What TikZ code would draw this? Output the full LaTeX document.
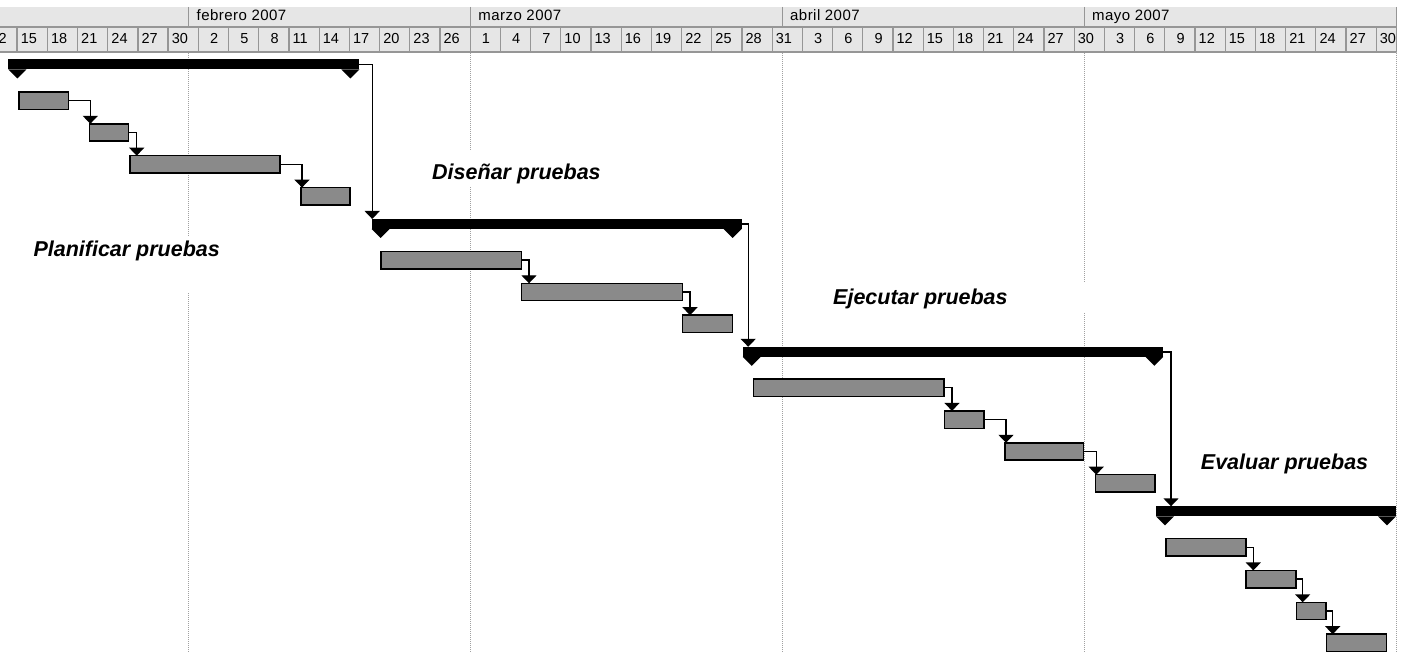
\documentclass[tikz,border=0pt]{standalone}
\usepackage{fontspec}
\setmainfont{Liberation Sans}
\newfontfamily\hdrfont[LetterSpace=3]{Liberation Sans}
\usetikzlibrary{arrows.meta}

\definecolor{hdrfill}{HTML}{E6E6E6}
\definecolor{hdrline}{HTML}{969696}
\definecolor{gridline}{HTML}{A0A0A0}
\definecolor{barfill}{HTML}{8A8A8A}

\tikzset{
  taskbar/.style={draw=black, line width=1.5pt, fill=barfill, inner sep=0pt,
    outer sep=0pt, anchor=north west, minimum height=17.4pt},
  sumbar/.style={fill=black, inner sep=0pt, outer sep=0pt, anchor=north west,
    minimum height=10pt},
  link/.style={line width=1.4pt, -{Triangle[width=15pt,length=8pt]}},
  phase/.style={font=\fontsize{21.5}{24}\selectfont\bfseries\itshape,
    inner sep=0pt, anchor=base west},
  monthlbl/.style={font=\hdrfont\fontsize{15}{17}\selectfont, inner sep=0pt,
    anchor=base west},
  daylbl/.style={font=\fontsize{14.5}{16}\selectfont, inner sep=0pt,
    anchor=base west},
  hdr/.style={draw=hdrline, line width=1.3pt},
  monthgrid/.style={draw=gridline, line width=1pt, dash pattern=on 1pt off 1pt},
}

% summary bar: name, left x, right x, top y
\newcommand\summarybar[4]{%
  \node[sumbar, minimum width={#3-#2}] (#1) at (#2,#4) {};
  \fill (#1.south west) -- ++(18,0) -- ++(-9,9) -- cycle;
  \fill (#1.south east) -- ++(-18,0) -- ++(9,9) -- cycle;
}
% task bar: name, left x, right x, top y
\newcommand\gtask[4]{%
  \node[taskbar, minimum width={#3-#2}] (#1) at (#2,#4) {};
}

\begin{document}
\begin{tikzpicture}[x=1pt, y=-1pt]
\useasboundingbox (0,0) rectangle (1410,652);
\fill[white] (0,0) rectangle (1410,652);

% ---- timescale ----
\begin{scope}
  \clip (0,0) rectangle (1396.7,60);
  \fill[hdrfill] (0,7) rectangle (1396.7,52);
  \draw[hdr] (0,27) -- (1396.7,27);
  \draw[hdr] (0,52) -- (1396.7,52);
  \foreach \mx in {188.3,470.2,782.3,1084.3}
    \draw[hdr] (\mx,7) -- (\mx,27);
  \foreach \lbl [count=\i from 0] in {12,15,18,21,24,27,30,2,5,8,11,14,17,20,23,26,
      1,4,7,10,13,16,19,22,25,28,31,3,6,9,12,15,18,21,24,27,30,3,6,9,12,15,18,21,24,27,30}{
    \pgfmathsetmacro\dx{-123.8+10.067*(11+3*\i)}
    \draw[hdr] (\dx,27) -- (\dx,52);
    \node[daylbl] (day\i) at (\dx+3.5,44) {\ifnum\lbl<10 \phantom{0}\fi\lbl};
  }
  \node[monthlbl] (feb) at (196.5,21) {febrero 2007};
  \node[monthlbl] (mar) at (478.2,21) {marzo 2007};
  \node[monthlbl] (abr) at (790.0,21) {abril 2007};
  \node[monthlbl] (may) at (1092.0,21) {mayo 2007};
\end{scope}
\draw[hdr] (1396.7,7) -- (1396.7,52);

% ---- month boundaries ----
\foreach \mx in {188.3,470.2,782.3,1084.3,1396.2}
  \draw[monthgrid] (\mx,53) -- (\mx,652);

% ---- phase captions ----
\fill[white] (25,236) rectangle (230,292);
\fill[white] (425,150) rectangle (608,187);
\fill[white] (825,282) rectangle (1090,313);
\node[phase] (lplan) at (33.3,256.7) {Planificar pruebas};
\node[phase] (ldis)  at (432,179.3) {Diseñar pruebas};
\node[phase] (leje)  at (833,304)   {Ejecutar pruebas};
\node[phase] (leva)  at (1200.7,469.3) {Evaluar pruebas};

% ---- summary bars ----
\summarybar{s1}{8.3}{359.3}{59.5}
\summarybar{s2}{371.7}{741.7}{219}
\summarybar{s3}{742.7}{1163.3}{346.8}
\summarybar{s4}{1156}{1396}{506.3}

% ---- tasks ----
\gtask{t1}{19}{68.7}{91.9}
\gtask{t2}{89.3}{128.7}{123.8}
\gtask{t3}{130}{280}{155.7}
\gtask{t4}{301}{350}{187.6}
\gtask{t5}{381}{521.7}{251.4}
\gtask{t6}{521.7}{682.3}{283.3}
\gtask{t7}{682.7}{732.7}{315.2}
\gtask{t8}{753.3}{944}{379}
\gtask{t9}{944.5}{984}{410.9}
\gtask{t10}{1005}{1083.3}{442.8}
\gtask{t11}{1095.7}{1155}{474.7}
\gtask{t12}{1166}{1246}{538.5}
\gtask{t13}{1246}{1296}{570.4}
\gtask{t14}{1296.7}{1326}{602.3}
\gtask{t15}{1326.7}{1386.7}{634.2}

% ---- dependencies ----
\draw[link] (t1.east) -| ([xshift=1pt]t2.north west);
\draw[link] (t2.east) -| ([xshift=6.7pt]t3.north west);
\draw[link] (t3.east) -| ([xshift=1pt]t4.north west);
\draw[link] (t5.east) -| ([xshift=7.3pt]t6.north west);
\draw[link] (t6.east) -| ([xshift=7.3pt]t7.north west);
\draw[link] (t8.east) -| ([xshift=7.5pt]t9.north west);
\draw[link] (t9.east) -| ([xshift=1pt]t10.north west);
\draw[link] (t10.east) -| ([xshift=0.5pt]t11.north west);
\draw[link] (t12.east) -| ([xshift=7.3pt]t13.north west);
\draw[link] (t13.east) -| ([xshift=6pt]t14.north west);
\draw[link] (t14.east) -| ([xshift=6pt]t15.north west);
\draw[link] (s1.east) -| ([xshift=0.5pt]s2.north west);
\draw[link] (s2.east) -| ([xshift=5.5pt]s3.north west);
\draw[link] (s3.east) -| ([xshift=15pt]s4.north west);
\end{tikzpicture}
\end{document}
